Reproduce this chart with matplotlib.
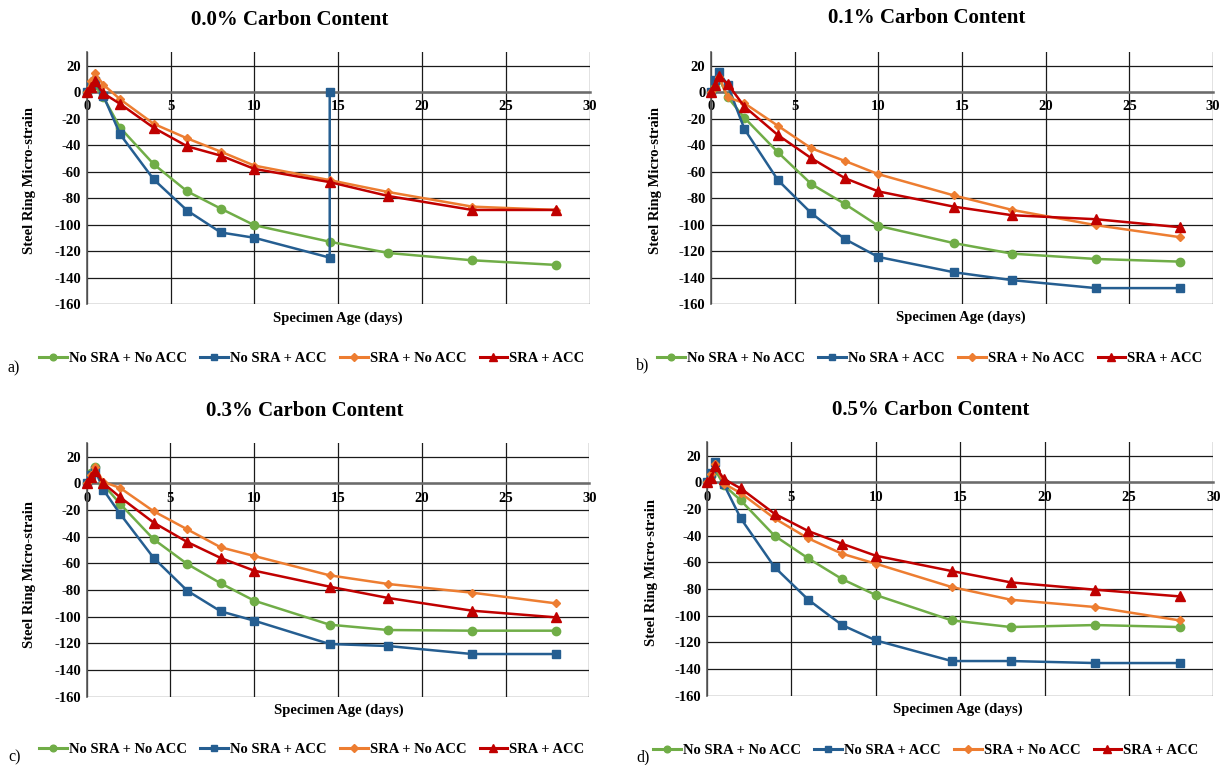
import matplotlib
matplotlib.use("Agg")
import matplotlib.pyplot as plt
from matplotlib.lines import Line2D

plt.rcParams["font.family"] = ["Liberation Serif", "DejaVu Serif"]
plt.rcParams["axes.unicode_minus"] = False

# Specimen age (days) at each reading
days = [0, 0.25, 0.5, 1, 2, 4, 6, 8, 10, 14.5, 18, 23, 28]

# 0.0% carbon
a_nosra_noacc = [0, 3, 5, -4, -27, -54.5, -75, -88, -100.5, -113, -121.5, -127, -130.5]
a_nosra_acc_days = [0, 0.25, 0.5, 1, 2, 4, 6, 8, 10, 14.5, 14.5]
a_nosra_acc = [0, 5, 8, -3, -32, -66, -89.5, -106, -110, -125, 0]
a_sra_noacc = [0, 8, 14, 5.5, -5.5, -24, -35, -45, -55.5, -66.5, -75.5, -86.5, -89]
a_sra_acc = [0, 4, 8, -1, -9, -27, -41, -48, -58, -68, -78.5, -89, -89]

# 0.1% carbon
b_nosra_noacc = [0, 4, 10, -4, -19.5, -45.5, -69.5, -84.5, -101, -114, -122, -126, -128]
b_nosra_acc = [0, 9, 15, 5, -28, -66.5, -91.5, -111, -124.5, -136, -142, -148, -148]
b_sra_noacc = [0, 4, 11, -4, -8.5, -25.5, -42.5, -52, -62, -78, -89, -100.5, -109.5]
b_sra_acc = [0, 5, 12, 6, -11, -32.5, -50, -65, -75, -86.5, -93, -96, -102]

# 0.3% carbon
c_nosra_noacc = [0, 7.5, 12, -1, -15.5, -42, -60.5, -75, -88, -106, -110, -110.5, -110.5]
c_nosra_acc = [0, 6, 10, -5, -23, -56, -80.5, -96, -103, -120.5, -122, -128, -128]
c_sra_noacc = [0, 6, 12, 1, -3.5, -21, -34.5, -48, -54.5, -69, -75.5, -82, -90]
c_sra_acc = [0, 4.5, 9.5, 0, -10.5, -29.5, -44, -56, -65.5, -77.5, -86, -95.5, -100.5]

# 0.5% carbon
d_nosra_noacc = [0, 5, 9, -2, -13.5, -40, -57, -72.5, -84.5, -103.5, -108.5, -107, -108.5]
d_nosra_acc = [0, 7, 15.5, -1.5, -27, -63.5, -88, -107, -118.5, -134, -134, -135.5, -135.5]
d_sra_noacc = [0, 6, 13.5, -1, -8, -27, -42, -53.5, -61, -78.5, -88, -93.5, -103.5]
d_sra_acc = [0, 3.5, 12, 2.5, -4.5, -23.5, -36.5, -46, -55, -66.5, -75, -80.5, -85.5]

series_names = ["No SRA + No ACC", "No SRA + ACC", "SRA + No ACC", "SRA + ACC"]
series_colors = ["#70AD47", "#255E91", "#ED7D31", "#C00000"]
series_markers = ["o", "s", "D", "^"]
series_msize = [6, 6, 4.5, 7]

titles = ["0.0% Carbon Content", "0.1% Carbon Content",
          "0.3% Carbon Content", "0.5% Carbon Content"]
panel_tags = ["a)", "b)", "c)", "d)"]
x_ticks = [0, 5, 10, 15, 20, 25, 30]
y_ticks = [-160, -140, -120, -100, -80, -60, -40, -20, 0, 20]

W, H = 1224, 765
fig = plt.figure(figsize=(W / 100, H / 100), dpi=100)


def fx(x):
    return x / W


def fy(y):
    return 1 - y / H


def axes_box(left, right, top, bottom):
    return [fx(left), fy(bottom), fx(right) - fx(left), fy(top) - fy(bottom)]


panels = [
    dict(box=axes_box(86.7, 589.5, 52.3, 304), data=[
        (days, a_nosra_noacc), (a_nosra_acc_days, a_nosra_acc),
        (days, a_sra_noacc), (days, a_sra_acc)],
         title=(290, 20), xlab=(338, 318), ylab=(30, 180), leg=(312, 358), tag=(8, 368)),
    dict(box=axes_box(711, 1213, 52.3, 304), data=[
        (days, b_nosra_noacc), (days, b_nosra_acc),
        (days, b_sra_noacc), (days, b_sra_acc)],
         title=(927, 18), xlab=(961, 317), ylab=(655, 180), leg=(930, 358), tag=(636, 365)),
    dict(box=axes_box(86.7, 589.3, 443.3, 696.7), data=[
        (days, c_nosra_noacc), (days, c_nosra_acc),
        (days, c_sra_noacc), (days, c_sra_acc)],
         title=(305, 411), xlab=(339, 710), ylab=(30, 575), leg=(312, 749), tag=(8, 757)),
    dict(box=axes_box(707, 1213.3, 442.4, 695.7), data=[
        (days, d_nosra_noacc), (days, d_nosra_acc),
        (days, d_sra_noacc), (days, d_sra_acc)],
         title=(931, 410), xlab=(958, 709), ylab=(652, 572), leg=(926, 750), tag=(636, 757)),
]

for i, p in enumerate(panels):
    ax = fig.add_axes(p["box"])
    ax.set_xlim(0, 30)
    ax.set_ylim(-160, 30)
    ax.set_xticks(x_ticks)
    ax.set_yticks(y_ticks)
    ax.grid(True, color="#1a1a1a", linewidth=0.9, zorder=0)
    ax.set_axisbelow(True)
    for s in ["top", "right"]:
        ax.spines[s].set_visible(False)
    ax.spines["left"].set_color("#595959")
    ax.spines["left"].set_linewidth(1.2)
    ax.spines["bottom"].set_position(("data", 0))
    ax.spines["bottom"].set_color("#6b6b6b")
    ax.spines["bottom"].set_linewidth(1.8)
    ax.tick_params(length=0, labelsize=10.5, pad=4)
    ax.tick_params(axis="x", pad=6)
    for lab in ax.get_xticklabels() + ax.get_yticklabels():
        lab.set_fontweight("bold")

    for (xs, ys), c, m, ms in zip(p["data"], series_colors, series_markers, series_msize):
        ax.plot(xs, ys, color=c, linewidth=1.8, marker=m, markersize=ms,
                markeredgecolor=c, zorder=3, clip_on=False)

    fig.text(fx(p["title"][0]), fy(p["title"][1]), titles[i], ha="center", va="center",
             fontsize=15, fontweight="bold")
    fig.text(fx(p["xlab"][0]), fy(p["xlab"][1]), "Specimen Age (days)", ha="center",
             va="center", fontsize=10.5, fontweight="bold")
    fig.text(fx(p["ylab"][0]), fy(p["ylab"][1]), "Steel Ring Micro-strain", ha="center",
             va="center", rotation=90, fontsize=10.5, fontweight="bold")
    fig.text(fx(p["tag"][0]), fy(p["tag"][1]), panel_tags[i], ha="left", va="center",
             fontsize=11.5)

    handles = [Line2D([0], [0], color=c, linewidth=2.2, marker=m, markersize=ms * 0.8,
                      markeredgecolor=c)
               for c, m, ms in zip(series_colors, series_markers, series_msize)]
    fig.legend(handles, series_names, loc="center",
               bbox_to_anchor=(fx(p["leg"][0]), fy(p["leg"][1])),
               ncol=4, frameon=False, handlelength=1.9, handletextpad=0.15,
               columnspacing=0.9, prop=dict(weight="bold", size=10.5))

fig.savefig("out.png", dpi=100)
